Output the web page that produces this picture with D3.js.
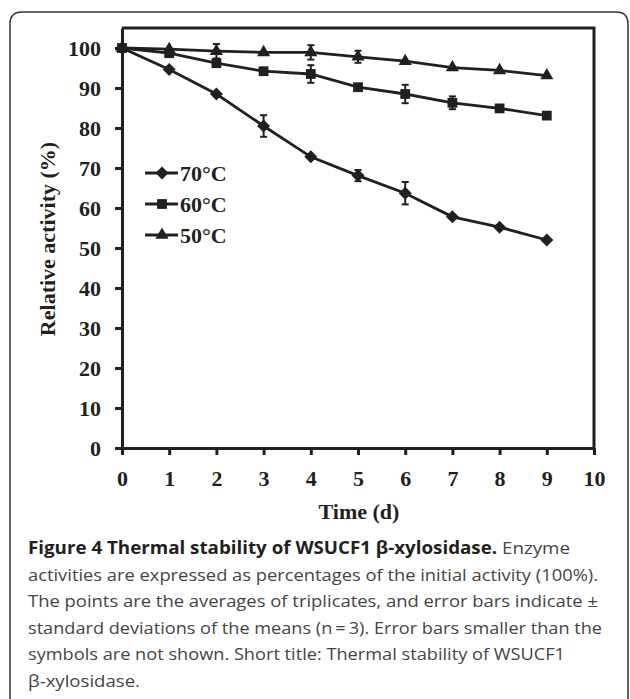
<!DOCTYPE html>
<html>
<head>
<meta charset="utf-8">
<script src="https://cdn.jsdelivr.net/npm/d3@7"></script>
<style>
  body { margin: 0; background: #fff; }
  svg { display: block; }
</style>
</head>
<body>
<script>
// Data
var days = [0, 1, 2, 3, 4, 5, 6, 7, 8, 9];
var act70 = [100, 94.6, 88.5, 80.5, 72.8, 68.1, 63.7, 57.8, 55.2, 52.0];
var err70 = [0, 0, 0, 2.7, 0, 1.4, 2.8, 0, 0, 0];
var act60 = [100, 98.7, 96.2, 94.2, 93.5, 90.2, 88.5, 86.3, 84.9, 83.1];
var err60 = [0, 0, 0, 0, 2.2, 0, 2.3, 1.6, 0, 0];
var act50 = [100, 99.7, 99.2, 98.9, 98.9, 97.8, 96.7, 95.1, 94.4, 93.1];
var err50 = [0, 0, 1.8, 0, 1.8, 1.5, 0, 0, 0, 0];
var seriesNames = ["70°C", "60°C", "50°C"];
var xTicks = [0, 1, 2, 3, 4, 5, 6, 7, 8, 9, 10];
var yTicks = [0, 10, 20, 30, 40, 50, 60, 70, 80, 90, 100];

var captionBold = "Figure 4 Thermal stability of WSUCF1 β-xylosidase.";
var captionLines = [
  " Enzyme",
  "activities are expressed as percentages of the initial activity (100%).",
  "The points are the averages of triplicates, and error bars indicate ±",
  "standard deviations of the means (n\u2009=\u20093). Error bars smaller than the",
  "symbols are not shown. Short title: Thermal stability of WSUCF1",
  "β-xylosidase."
];

var W = 630, H = 699;
var ink = "#231f20";
var serif = "'Liberation Serif', 'Times New Roman', serif";
var sans = "'Open Sans', 'Noto Sans', sans-serif";

var svg = d3.select("body").append("svg")
    .attr("width", W)
    .attr("height", H);

// Outer frame with rounded top corners
svg.append("path")
    .attr("d", "M10,710 L10,24 Q10,12 22,12 L616,12 Q628,12 628,24 L628,710")
    .attr("fill", "none")
    .attr("stroke", "#333")
    .attr("stroke-width", 1.5);

var x = d3.scaleLinear().domain([0, 10]).range([122, 594]);
var y = d3.scaleLinear().domain([0, 105]).range([448, 28]);

// Plot box (top and right)
svg.append("path")
    .attr("d", "M" + x(0) + "," + y(105) + " L" + x(10) + "," + y(105) + " L" + x(10) + "," + y(0))
    .attr("fill", "none")
    .attr("stroke", ink)
    .attr("stroke-width", 3);

// Axes
var xAxis = svg.append("g")
    .attr("transform", "translate(0," + y(0) + ")")
    .call(d3.axisBottom(x).tickValues(xTicks).tickSizeInner(7).tickSizeOuter(0).tickPadding(15));

var yAxis = svg.append("g")
    .attr("transform", "translate(" + x(0) + ",0)")
    .call(d3.axisLeft(y).tickValues(yTicks).tickSizeInner(7).tickSizeOuter(0).tickPadding(14));

[xAxis, yAxis].forEach(function(g) {
  g.select(".domain").attr("stroke", ink).attr("stroke-width", 3);
  g.selectAll(".tick line").attr("stroke", ink).attr("stroke-width", 3);
  g.selectAll(".tick text")
      .attr("fill", ink)
      .style("font-family", serif)
      .style("font-weight", "bold")
      .style("font-size", "22px");
});
yAxis.selectAll(".tick text").attr("dy", "0.34em");

// Axis titles
svg.append("text")
    .attr("x", x(5) + 1)
    .attr("y", 519)
    .attr("text-anchor", "middle")
    .attr("fill", ink)
    .style("font-family", serif)
    .style("font-weight", "bold")
    .style("font-size", "22px")
    .text("Time (d)");

svg.append("text")
    .attr("transform", "translate(55," + 239 + ") rotate(-90)")
    .attr("text-anchor", "middle")
    .attr("fill", ink)
    .style("font-family", serif)
    .style("font-weight", "bold")
    .style("font-size", "22px")
    .text("Relative activity (%)");

// Series
var symbols = [
  {type: d3.symbolSquare, size: 84, rotate: 45},
  {type: d3.symbolSquare, size: 96, rotate: 0},
  {type: d3.symbolTriangle, size: 74, rotate: 0}
];
var series = [
  {name: seriesNames[0], values: act70, errors: err70, sym: symbols[0]},
  {name: seriesNames[1], values: act60, errors: err60, sym: symbols[1]},
  {name: seriesNames[2], values: act50, errors: err50, sym: symbols[2]}
];

var line = d3.line()
    .x(function(d) { return x(d.day); })
    .y(function(d) { return y(d.v); });

series.forEach(function(s) {
  var pts = days.map(function(d, i) { return {day: d, v: s.values[i], e: s.errors[i]}; });
  var g = svg.append("g");

  g.append("path")
      .datum(pts)
      .attr("d", line)
      .attr("fill", "none")
      .attr("stroke", ink)
      .attr("stroke-width", 2.8);

  // error bars
  var eb = g.selectAll(".err")
      .data(pts.filter(function(p) { return p.e > 0; }))
      .enter().append("g")
      .attr("stroke", ink)
      .attr("stroke-width", 2);
  eb.append("line")
      .attr("x1", function(p) { return x(p.day); })
      .attr("x2", function(p) { return x(p.day); })
      .attr("y1", function(p) { return y(p.v - p.e); })
      .attr("y2", function(p) { return y(p.v + p.e); });
  eb.append("line")
      .attr("x1", function(p) { return x(p.day) - 3.5; })
      .attr("x2", function(p) { return x(p.day) + 3.5; })
      .attr("y1", function(p) { return y(p.v + p.e); })
      .attr("y2", function(p) { return y(p.v + p.e); });
  eb.append("line")
      .attr("x1", function(p) { return x(p.day) - 3.5; })
      .attr("x2", function(p) { return x(p.day) + 3.5; })
      .attr("y1", function(p) { return y(p.v - p.e); })
      .attr("y2", function(p) { return y(p.v - p.e); });

  g.selectAll(".pt")
      .data(pts)
      .enter().append("path")
      .attr("d", d3.symbol().type(s.sym.type).size(s.sym.size))
      .attr("transform", function(p) {
        return "translate(" + x(p.day) + "," + y(p.v) + ") rotate(" + s.sym.rotate + ")";
      })
      .attr("fill", ink);
});

// Legend
var legend = svg.append("g");
series.forEach(function(s, i) {
  var cy = 173 + i * 31;
  legend.append("line")
      .attr("x1", 145).attr("x2", 178)
      .attr("y1", cy).attr("y2", cy)
      .attr("stroke", ink)
      .attr("stroke-width", 2.8);
  legend.append("path")
      .attr("d", d3.symbol().type(s.sym.type).size(s.sym.size))
      .attr("transform", "translate(162," + cy + ") rotate(" + s.sym.rotate + ")")
      .attr("fill", ink);
  legend.append("text")
      .attr("x", 180)
      .attr("y", cy + 8)
      .attr("fill", ink)
      .style("font-family", serif)
      .style("font-weight", "bold")
      .style("font-size", "22px")
      .text(s.name);
});

// Caption
var capEnds = [570, 598, 598, 602, 565, 140];
var cap = svg.append("g")
    .style("font-family", sans)
    .style("font-size", "17px");
captionLines.forEach(function(txt, i) {
  var t = cap.append("text")
      .attr("x", 28)
      .attr("y", 554 + i * 26.5)
      .attr("textLength", capEnds[i] - 28)
      .attr("lengthAdjust", "spacingAndGlyphs")
      .attr("fill", "#444");
  if (i === 0) {
    t.append("tspan")
        .attr("fill", "#231f20")
        .style("font-weight", "bold")
        .text(captionBold);
  }
  t.append("tspan").text(txt);
});
</script>
</body>
</html>
